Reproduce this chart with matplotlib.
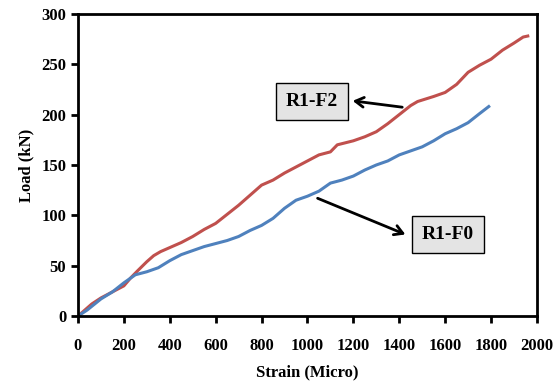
import matplotlib
matplotlib.use("Agg")
import matplotlib.pyplot as plt

f2_strain = [0, 30, 60, 100, 150, 200, 230, 260, 300, 330, 360, 400, 450, 500, 550, 600, 650, 700, 750, 800,
             850, 900, 950, 1000, 1050, 1100, 1130, 1200, 1250, 1300, 1350, 1400, 1450, 1480, 1550, 1600,
             1650, 1700, 1750, 1800, 1850, 1900, 1940, 1960]
f2_load = [0, 6, 12, 18, 24, 30, 38, 45, 54, 60, 64, 68, 73, 79, 86, 92, 101, 110, 120, 130,
           135, 142, 148, 154, 160, 163, 170, 174, 178, 183, 191, 200, 209, 213, 218, 222,
           230, 242, 249, 255, 264, 271, 277, 278]

f0_strain = [0, 40, 100, 150, 200, 250, 300, 350, 400, 450, 500, 550, 600, 650, 700, 750, 800, 850, 900,
             950, 1000, 1050, 1100, 1150, 1200, 1250, 1300, 1350, 1400, 1450, 1500, 1550, 1600, 1650,
             1700, 1750, 1790]
f0_load = [0, 6, 17, 24, 33, 41, 44, 48, 55, 61, 65, 69, 72, 75, 79, 85, 90, 97, 107,
           115, 119, 124, 132, 135, 139, 145, 150, 154, 160, 164, 168, 174, 181, 186,
           192, 201, 208]

labels = ["R1-F2", "R1-F0"]
xticks = [0, 200, 400, 600, 800, 1000, 1200, 1400, 1600, 1800, 2000]
yticks = [0, 50, 100, 150, 200, 250, 300]

plt.rcParams['font.family'] = ['Liberation Serif', 'DejaVu Serif']
fig = plt.figure(figsize=(5.57, 3.85), dpi=100)
ax = fig.add_axes([0.140, 0.179, 0.824, 0.785])

ax.plot(f2_strain, f2_load, color='#c0504d', lw=2.2)
ax.plot(f0_strain, f0_load, color='#4f81bd', lw=2.2)

ax.set_xlim(0, 2000)
ax.set_ylim(0, 300)
ax.set_xticks(xticks)
ax.set_yticks(yticks)
for sp in ax.spines.values():
    sp.set_linewidth(2)
ax.tick_params(width=2, length=5, labelsize=12)
for lab in ax.get_xticklabels() + ax.get_yticklabels():
    lab.set_fontweight('bold')
ax.tick_params(axis='x', pad=11)
ax.set_xlabel("Strain (Micro)", fontsize=12, fontweight='bold', labelpad=7)
ax.set_ylabel("Load (kN)", fontsize=12, fontweight='bold', labelpad=5)

box = dict(boxstyle='square,pad=0.5', facecolor='#e4e4e4', edgecolor='black', lw=1)
ax.text(1020, 213, labels[0], fontsize=14, fontweight='bold', ha='center', va='center', bbox=box)
ax.text(1612, 81, labels[1], fontsize=14, fontweight='bold', ha='center', va='center', bbox=box)

arw = dict(arrowstyle='->,head_length=0.6,head_width=0.35', color='black', lw=2)
ax.annotate('', xy=(1185, 214), xytext=(1425, 207), arrowprops=arw)
ax.annotate('', xy=(1438, 80), xytext=(1033, 118), arrowprops=arw)

fig.savefig("out.png", dpi=100)
